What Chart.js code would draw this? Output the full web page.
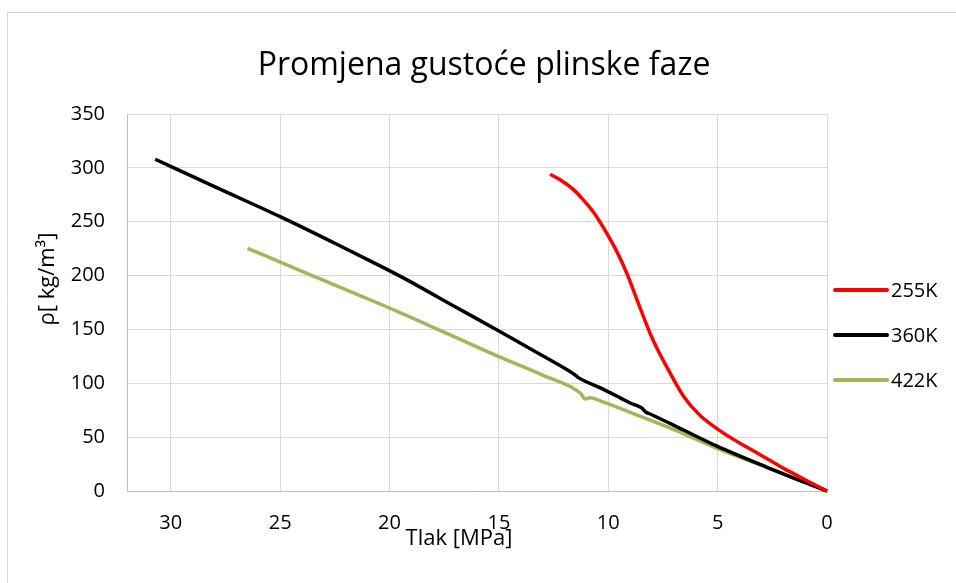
<!DOCTYPE html>
<html>
<head>
<meta charset="utf-8">
<script src="https://cdn.jsdelivr.net/npm/chart.js@4.4.1/dist/chart.umd.min.js"></script>
<style>
  html, body { margin: 0; padding: 0; background: #fff; }
  #wrap { width: 956px; height: 583px; }
</style>
</head>
<body>
<div id="wrap"><canvas id="chart" width="956" height="583"></canvas></div>
<script>
const chartTitle = 'Promjena gustoće plinske faze';
const xTitle = 'Tlak [MPa]';
const yTitle = 'ρ[ kg/m³]';
const seriesLabels = ['255K', '360K', '422K'];
const seriesColors = ['#FF0000', '#000000', '#9BBB59'];

// tlak [MPa] / gustoca [kg/m3]
const p255 = [12.66, 12.2, 11.6, 11.13, 10.68, 10.06, 9.6, 9.15, 8.62, 8.08, 7.7, 7.32, 6.56, 5.8, 5.0, 4.2, 3.51, 2.7, 1.98, 1.0, 0];
const rho255 = [294, 289, 280, 270, 259, 239, 222, 202, 174, 146, 129.5, 115, 88, 70, 57.5, 47, 39, 29.5, 21, 10.5, 0];

const p360 = [30.71, 28, 25, 22.5, 20.43, 19.2, 17, 15, 13, 11.5, 11.35, 10.34, 9.45, 8.92, 8.7, 8.46, 8.3, 8.08, 6.56, 5.03, 2.74, 1.2, 0];
const rho360 = [308, 282.5, 254.7, 230, 209, 196, 171, 148.6, 125.5, 107.5, 105, 95.5, 86.5, 81, 79.5, 77, 73.5, 71.5, 56.6, 41.6, 22, 9.5, 0];

const p422 = [26.49, 24, 22, 20.43, 19.2, 17, 15, 13, 11.28, 11.05, 10.83, 10.34, 9, 7.32, 5.03, 2.44, 1.0, 0];
const rho422 = [225.3, 204, 187, 173.6, 162.8, 142.8, 124.7, 107.6, 91, 85.5, 86.5, 83.5, 73, 59.7, 39.6, 19.5, 8, 0];

const xTicks = [0, 5, 10, 15, 20, 25, 30];
const yTicks = [0, 50, 100, 150, 200, 250, 300, 350];

const FONT = "'Open Sans', 'Noto Sans', sans-serif";

function toPoints(xs, ys) {
  return xs.map((x, i) => ({ x: x, y: ys[i] }));
}

const frameAndText = {
  id: 'frameAndText',
  beforeDraw(chart) {
    const ctx = chart.ctx;
    ctx.save();
    ctx.fillStyle = '#fff';
    ctx.fillRect(0, 0, chart.width, chart.height);
    ctx.strokeStyle = '#D9D9D9';
    ctx.lineWidth = 1;
    ctx.beginPath();
    ctx.moveTo(7.5, chart.height);
    ctx.lineTo(7.5, 12.5);
    ctx.lineTo(chart.width, 12.5);
    ctx.stroke();
    ctx.restore();
  },
  afterDraw(chart) {
    const ctx = chart.ctx;
    ctx.save();
    ctx.fillStyle = '#000';
    ctx.textAlign = 'center';
    ctx.textBaseline = 'middle';

    // naslov
    ctx.font = '32px ' + FONT;
    ctx.fillText(chartTitle, 484, 66);

    // naslovi osi
    ctx.font = '22px ' + FONT;
    ctx.fillText(xTitle, 459, 539);
    ctx.save();
    ctx.translate(48, 279);
    ctx.rotate(-Math.PI / 2);
    ctx.fillText(yTitle, 0, 0);
    ctx.restore();

    // legenda
    ctx.font = '20px ' + FONT;
    ctx.textAlign = 'left';
    chart.data.datasets.forEach((ds, i) => {
      const y = 290 + i * 45;
      ctx.strokeStyle = ds.borderColor;
      ctx.lineWidth = 4;
      ctx.lineCap = 'round';
      ctx.beginPath();
      ctx.moveTo(835, y);
      ctx.lineTo(887, y);
      ctx.stroke();
      ctx.fillText(ds.label, 891, y + 1);
    });
    ctx.restore();
  }
};

const datasets = [
  toPoints(p255, rho255),
  toPoints(p360, rho360),
  toPoints(p422, rho422),
].map((pts, i) => ({
  label: seriesLabels[i],
  data: pts,
  showLine: true,
  borderColor: seriesColors[i],
  backgroundColor: seriesColors[i],
  borderWidth: 3.5,
  pointRadius: 0,
  cubicInterpolationMode: 'monotone',
  clip: false,
}));

new Chart(document.getElementById('chart'), {
  type: 'scatter',
  data: { datasets: datasets },
  plugins: [frameAndText],
  options: {
    responsive: false,
    animation: false,
    layout: {
      padding: { left: 0, right: 129, top: 114, bottom: 0 }
    },
    scales: {
      x: {
        type: 'linear',
        reverse: true,
        min: 0,
        max: 32,
        afterBuildTicks: scale => {
          scale.ticks = xTicks.map(v => ({ value: v }));
        },
        afterFit: scale => { scale.height = 92; },
        grid: { color: '#D9D9D9', lineWidth: 1, drawTicks: false },
        border: { color: '#BFBFBF', width: 1 },
        ticks: {
          padding: 20,
          color: '#000',
          font: { family: FONT, size: 20 },
        },
      },
      y: {
        min: 0,
        max: 350,
        afterBuildTicks: scale => {
          scale.ticks = yTicks.map(v => ({ value: v }));
        },
        afterFit: scale => { scale.width = 127; },
        grid: { color: '#D9D9D9', lineWidth: 1, drawTicks: false },
        border: { color: '#BFBFBF', width: 1 },
        ticks: {
          padding: 22,
          color: '#000',
          font: { family: FONT, size: 20 },
        },
      },
    },
    plugins: {
      legend: { display: false },
      title: { display: false },
      tooltip: { enabled: false },
    },
  },
});
</script>
</body>
</html>
